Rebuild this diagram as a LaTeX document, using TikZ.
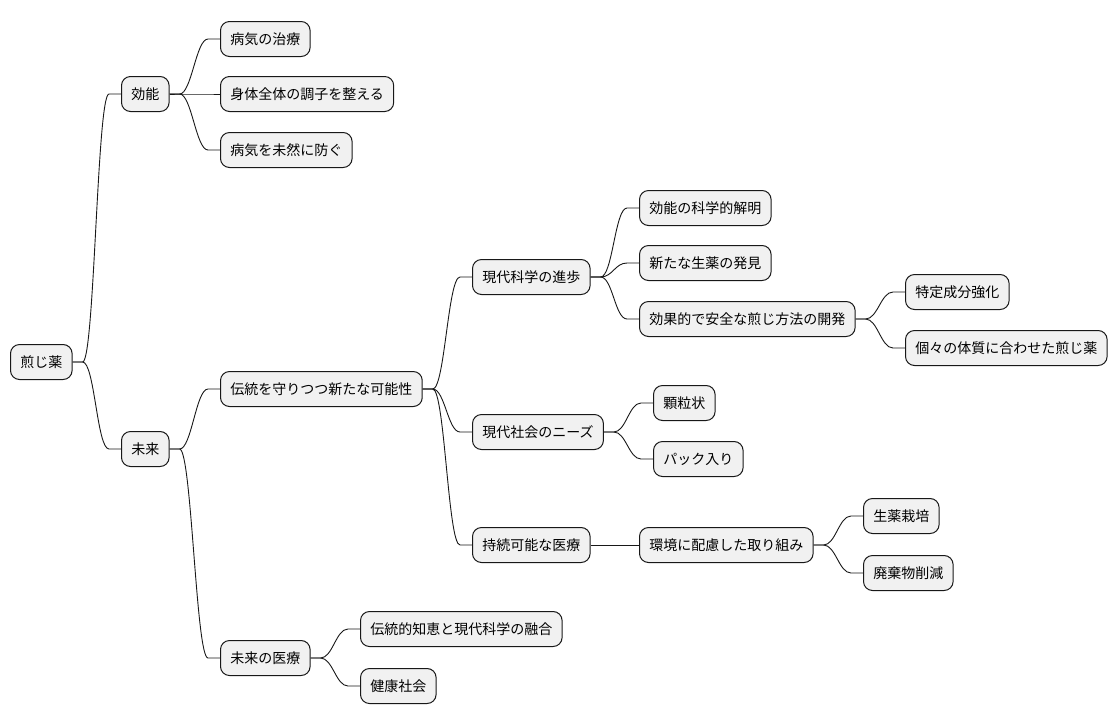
\documentclass[tikz,border=0pt]{standalone}
\usepackage{fontspec}
\setmainfont{Noto Sans CJK JP}
\usetikzlibrary{calc}
\definecolor{boxfill}{HTML}{F1F1F1}
\definecolor{boxline}{HTML}{181818}

\newcommand\link[2]{%
  \draw[edge] (#1.east) -- ++(10,0) .. controls +(12,0) and ($(#2.west)+(-24,0)$)
    .. ($(#2.west)+(-12,0)$) -- (#2.west);}

\begin{document}
\begin{tikzpicture}[
  x=1pt, y=-1pt,
  topic/.style={draw=boxline, fill=boxfill, line width=1pt, rounded corners=9pt,
    anchor=west, minimum height=35pt, inner xsep=9.8pt,
    font=\fontsize{14}{16}\selectfont},
  edge/.style={boxline, line width=0.9pt},
]
\useasboundingbox (0,0) rectangle (1118,724);

% Root
\node[topic] (root) at (10,362) {煎じ薬};

% ========================================
% Upper branch: effects
% ========================================
\node[topic] (kono) at (121,94) {効能};
\node[topic] (chiryo) at (220,39) {病気の治療};
\node[topic] (chosi) at (220,94) {身体全体の調子を整える};
\node[topic] (yobo) at (220,150) {病気を未然に防ぐ};

% ========================================
% Lower branch: future
% ========================================
\node[topic] (mirai) at (121,449) {未来};
\node[topic] (dento) at (220,389) {伝統を守りつつ新たな可能性};

\node[topic] (kagaku) at (472,277) {現代科学の進歩};
\node[topic] (kaimei) at (639,208) {効能の科学的解明};
\node[topic] (hakken) at (639,263) {新たな生薬の発見};
\node[topic] (kaihatsu) at (639,319) {効果的で安全な煎じ方法の開発};
\node[topic] (seibun) at (905,292) {特定成分強化};
\node[topic] (taishitsu) at (905,348) {個々の体質に合わせた煎じ薬};

\node[topic] (needs) at (472,432) {現代社会のニーズ};
\node[topic] (karyu) at (653,403) {顆粒状};
\node[topic] (pack) at (653,459) {パック入り};

\node[topic] (jizoku) at (472,545) {持続可能な医療};
\node[topic] (kankyo) at (639,545) {環境に配慮した取り組み};
\node[topic] (saibai) at (863,516) {生薬栽培};
\node[topic] (haiki) at (863,573) {廃棄物削減};

\node[topic] (iryo) at (220,658) {未来の医療};
\node[topic] (yugo) at (360,629) {伝統的知恵と現代科学の融合};
\node[topic] (kenko) at (360,686) {健康社会};

% Connectors
\link{root}{kono}
\link{root}{mirai}
\link{kono}{chiryo}
\link{kono}{chosi}
\link{kono}{yobo}
\link{mirai}{dento}
\link{mirai}{iryo}
\link{dento}{kagaku}
\link{dento}{needs}
\link{dento}{jizoku}
\link{kagaku}{kaimei}
\link{kagaku}{hakken}
\link{kagaku}{kaihatsu}
\link{kaihatsu}{seibun}
\link{kaihatsu}{taishitsu}
\link{needs}{karyu}
\link{needs}{pack}
\link{jizoku}{kankyo}
\link{kankyo}{saibai}
\link{kankyo}{haiki}
\link{iryo}{yugo}
\link{iryo}{kenko}

\end{tikzpicture}
\end{document}
